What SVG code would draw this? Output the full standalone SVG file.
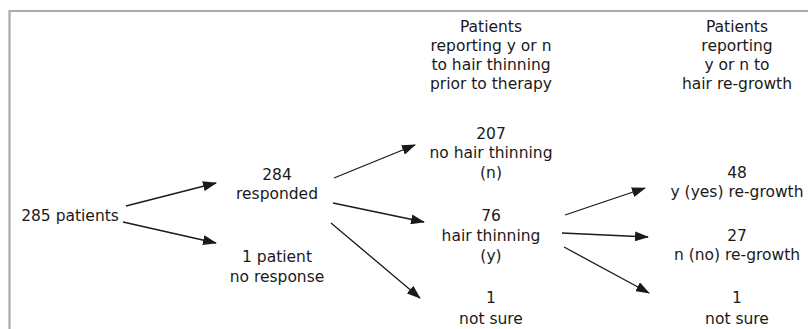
<svg xmlns="http://www.w3.org/2000/svg" width="808" height="329" viewBox="0 0 808 329">
<style>
text{font-family:"DejaVu Sans",Verdana,sans-serif;font-size:15.5px;fill:#1a1a1a;text-anchor:middle}
.c{stroke:#1a1a1a;stroke-width:1.3;fill:none;marker-end:url(#ah)}
</style>
<defs>
<marker id="ah" markerWidth="14" markerHeight="10" refX="13" refY="5" orient="auto" markerUnits="userSpaceOnUse">
<path d="M0,0 L14,5 L0,10 Z" fill="#1a1a1a"/>
</marker>
</defs>
<rect width="808" height="329" fill="#fff"/>
<path d="M9.5,329 V11 H808" fill="none" stroke="#aaaaaa" stroke-width="2.2"/>
<g id="connectors">
<line class="c" x1="126" y1="206" x2="216" y2="183"/>
<line class="c" x1="123" y1="222" x2="216" y2="243"/>
<line class="c" x1="334" y1="178" x2="415" y2="145"/>
<line class="c" x1="333" y1="203" x2="424" y2="222"/>
<line class="c" x1="331" y1="223" x2="420" y2="298"/>
<line class="c" x1="565" y1="215" x2="645" y2="188"/>
<line class="c" x1="562" y1="233" x2="648" y2="237"/>
<line class="c" x1="564" y1="247" x2="649" y2="293"/>
</g>
<g id="header1"><text x="491" y="32">Patients</text><text x="491" y="51">reporting y or n</text><text x="491" y="70">to hair thinning</text><text x="491" y="89">prior to therapy</text></g>
<g id="header2"><text x="737" y="32">Patients</text><text x="737" y="51">reporting</text><text x="737" y="70">y or n to</text><text x="737" y="89">hair re-growth</text></g>
<g id="n285"><text x="70" y="221">285 patients</text></g>
<g id="n284"><text x="277" y="180">284</text><text x="277" y="199">responded</text></g>
<g id="n1resp"><text x="277" y="262">1 patient</text><text x="277" y="282">no response</text></g>
<g id="n207"><text x="491" y="139">207</text><text x="491" y="158">no hair thinning</text><text x="491" y="178">(n)</text></g>
<g id="n76"><text x="491" y="221">76</text><text x="491" y="241">hair thinning</text><text x="491" y="261">(y)</text></g>
<g id="n1a"><text x="491" y="303">1</text><text x="491" y="324">not sure</text></g>
<g id="n48"><text x="737" y="178">48</text><text x="737" y="197">y (yes) re-growth</text></g>
<g id="n27"><text x="737" y="241">27</text><text x="737" y="260">n (no) re-growth</text></g>
<g id="n1b"><text x="737" y="303">1</text><text x="737" y="324">not sure</text></g>
</svg>
